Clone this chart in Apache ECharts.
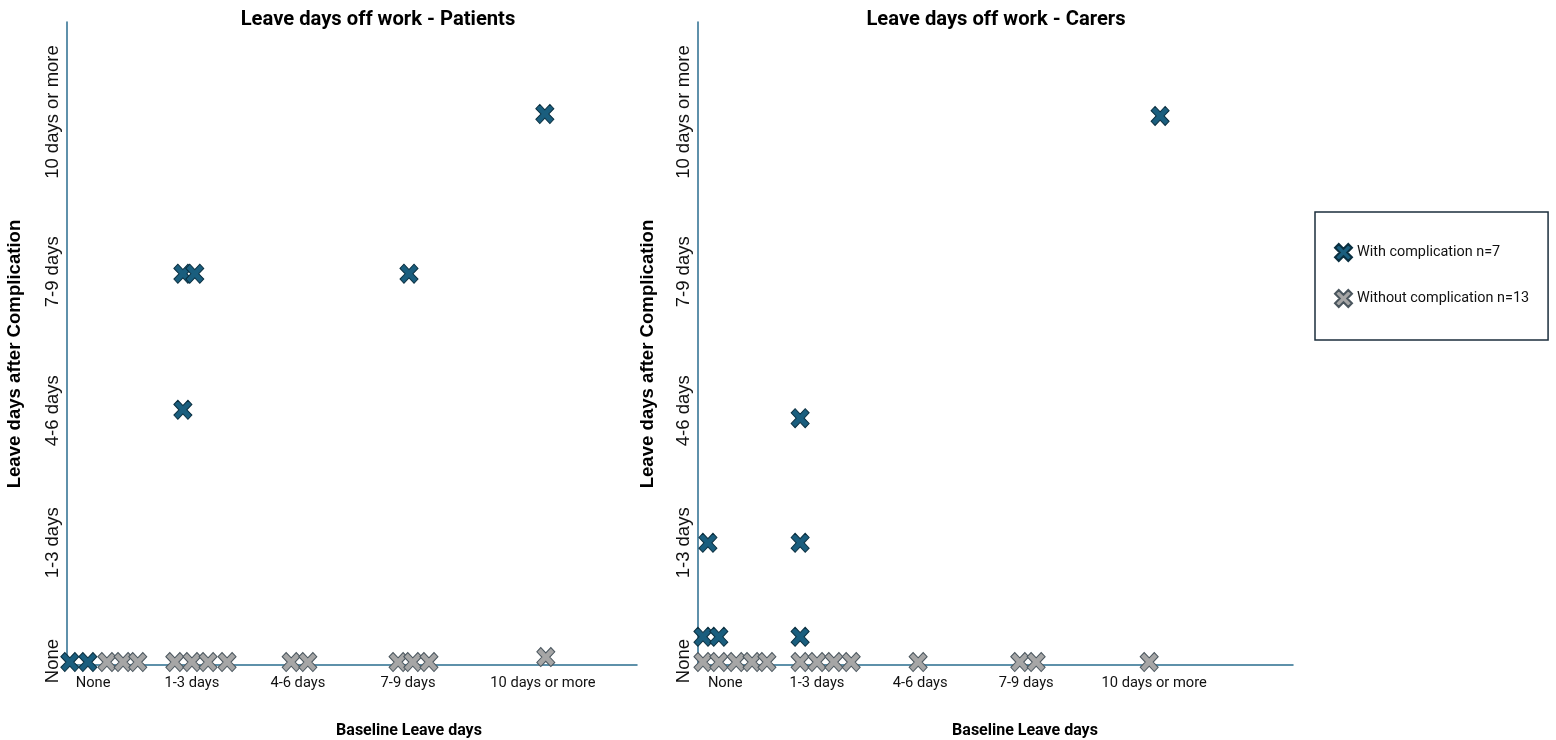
<!DOCTYPE html>
<html>
<head>
<meta charset="utf-8">
<script src="https://cdn.jsdelivr.net/npm/echarts@6/dist/echarts.min.js"></script>
<style>
html,body{margin:0;padding:0;background:#fff;}
#chart{width:1556px;height:740px;}
</style>
</head>
<body>
<div id="chart"></div>
<script>
// ---- Data ----
const levelLabels = ['None', '1-3 days', '4-6 days', '7-9 days', '10 days or more'];
// positions (axis units) where the category tick labels sit
const patientsXLabelPos = [0.55, 2.63, 4.86, 7.18, 10.02];
const carersXLabelPos = [0.55, 2.40, 4.48, 6.62, 9.20];
const yLabelPos = [0.08, 2.47, 5.14, 7.95, 11.18];

// [baseline (x), after complication (y)] – jittered positions
const patientsWith = [[0.06,0.06],[0.44,0.06],[2.44,7.91],[2.69,7.91],[2.44,5.16],[7.20,7.91],[10.06,11.14]];
const patientsWithout = [[0.84,0.06],[1.18,0.06],[1.49,0.06],[2.27,0.06],[2.63,0.06],[2.97,0.06],[3.37,0.06],[4.72,0.06],[5.07,0.06],[6.97,0.06],[7.28,0.06],[7.62,0.06],[10.08,0.16]];
const carersWith = [[0.10,0.57],[0.42,0.57],[0.20,2.47],[2.06,0.57],[2.06,2.47],[2.06,4.99],[9.32,11.10]];
const carersWithout = [[0.10,0.06],[0.42,0.06],[0.77,0.06],[1.09,0.06],[1.39,0.06],[2.06,0.06],[2.40,0.06],[2.74,0.06],[3.09,0.06],[4.44,0.06],[6.49,0.06],[6.82,0.06],[9.10,0.06]];

const seriesNames = ['With complication n=7', 'Without complication n=13'];
const titles = ['Leave days off work - Patients', 'Leave days off work - Carers'];
const xAxisTitle = 'Baseline Leave days';
const yAxisTitle = 'Leave days after Complication';

// ---- Styles ----
const NARROW = "'Roboto', sans-serif";
const SANS = "'Liberation Sans', Arial, sans-serif";
const AXIS_COLOR = '#2a6d8f';
const X_SYMBOL = 'path://M0,2.2 L2.2,0 L5,2.8 L7.8,0 L10,2.2 L7.2,5 L10,7.8 L7.8,10 L5,7.2 L2.2,10 L0,7.8 L2.8,5 Z';
const darkStyle = {color: '#1a5e7e', borderColor: '#0a2f40', borderWidth: 1, opacity: 1};
const greyStyle = {color: '#a6a6a6', borderColor: '#4a565e', borderWidth: 1, opacity: 1};

const grids = [
  {left: 67, top: 22, width: 570, height: 643},
  {left: 698, top: 22, width: 595, height: 643}
];

function xAxis(gi, pos) {
  return {
    type: 'value', gridIndex: gi, min: 0, max: 12,
    axisLine: {show: true, onZero: false, lineStyle: {color: AXIS_COLOR, width: 1.5}},
    axisTick: {show: false},
    splitLine: {show: false},
    axisLabel: {
      customValues: pos,
      formatter: (v) => levelLabels[pos.indexOf(v)],
      color: '#111', fontFamily: NARROW, fontSize: 14.7, margin: 11
    }
  };
}
function yAxis(gi) {
  return {
    type: 'value', gridIndex: gi, min: 0, max: 13,
    axisLine: {show: true, onZero: false, lineStyle: {color: AXIS_COLOR, width: 1.5}},
    axisTick: {show: false},
    splitLine: {show: false},
    axisLabel: {
      customValues: yLabelPos,
      formatter: (v) => levelLabels[yLabelPos.indexOf(v)],
      rotate: 90,
      color: '#111', fontFamily: SANS, fontSize: 18.5, margin: 5
    }
  };
}
function scatter(name, gi, data, style) {
  return {
    type: 'scatter', name: name, xAxisIndex: gi, yAxisIndex: gi,
    data: data, symbol: X_SYMBOL, symbolSize: [18, 19],
    itemStyle: style, clip: false, z: 3
  };
}

const chart = echarts.init(document.getElementById('chart'));
chart.setOption({
  backgroundColor: '#fff',
  animation: false,
  title: [
    {text: titles[0], left: 378, top: 10, textAlign: 'center', padding: 0,
     textStyle: {fontFamily: NARROW, fontWeight: 'bold', fontSize: 20.2, color: '#000'}},
    {text: titles[1], left: 996, top: 10, textAlign: 'center', padding: 0,
     textStyle: {fontFamily: NARROW, fontWeight: 'bold', fontSize: 20.2, color: '#000'}},
    {text: xAxisTitle, left: 409, top: 723, textAlign: 'center', padding: 0,
     textStyle: {fontFamily: NARROW, fontWeight: 'bold', fontSize: 16, color: '#000'}},
    {text: xAxisTitle, left: 1025, top: 723, textAlign: 'center', padding: 0,
     textStyle: {fontFamily: NARROW, fontWeight: 'bold', fontSize: 16, color: '#000'}}
  ],
  graphic: [
    {type: 'text', x: 15, y: 354, rotation: Math.PI / 2,
     style: {text: yAxisTitle, fontFamily: SANS, fontWeight: 'bold', fontSize: 18.6, fill: '#000',
             align: 'center', verticalAlign: 'middle'}},
    {type: 'text', x: 648, y: 354, rotation: Math.PI / 2,
     style: {text: yAxisTitle, fontFamily: SANS, fontWeight: 'bold', fontSize: 18.6, fill: '#000',
             align: 'center', verticalAlign: 'middle'}}
  ],
  legend: {
    orient: 'vertical', left: 1315, top: 212,
    padding: [31, 19, 32, 19], itemGap: 27,
    itemWidth: 17, itemHeight: 19,
    borderColor: '#1b2e3c', borderWidth: 1.5,
    data: seriesNames,
    textStyle: {fontFamily: NARROW, fontSize: 14.4, color: '#111'}
  },
  grid: grids,
  xAxis: [xAxis(0, patientsXLabelPos), xAxis(1, carersXLabelPos)],
  yAxis: [yAxis(0), yAxis(1)],
  series: [
    scatter(seriesNames[0], 0, patientsWith, darkStyle),
    scatter(seriesNames[1], 0, patientsWithout, greyStyle),
    scatter(seriesNames[0], 1, carersWith, darkStyle),
    scatter(seriesNames[1], 1, carersWithout, greyStyle)
  ]
});
</script>
</body>
</html>
